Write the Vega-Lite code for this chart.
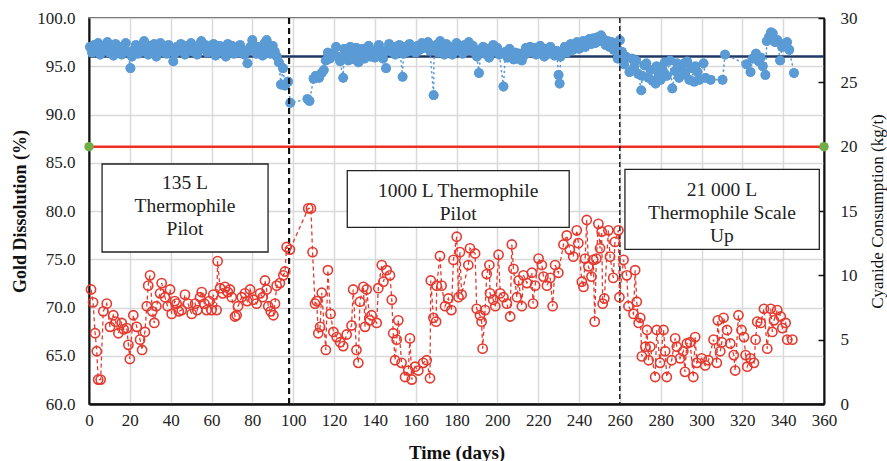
{
"$schema": "https://vega.github.io/schema/vega-lite/v6.json",
"width": 735, "height": 386,
"autosize": {"type": "none"},
"padding": {"left": 89, "top": 18, "right": 63, "bottom": 57},
"background": "white",
"config": {
  "font": "Liberation Serif",
  "view": {"stroke": "#222222", "strokeWidth": 1.5},
  "axis": {"labelFont": "Liberation Serif", "titleFont": "Liberation Serif", "labelColor": "#222222", "titleColor": "#111111", "labelFontSize": 17, "gridColor": "#d9d9d9", "gridWidth": 1.5, "domainColor": "#111111"}
},
"datasets": {
  "gold": [
{"day":0.5,"gold":97.0},{"day":1.5,"gold":96.4},{"day":2.5,"gold":97.2},{"day":3.5,"gold":96.6},{"day":4.5,"gold":97.4},{"day":5.5,"gold":96.2},{"day":7,"gold":97.1},{"day":8,"gold":96.7},{"day":9,"gold":97.5},{"day":10,"gold":96.4},{"day":11,"gold":97.0},{"day":12,"gold":96.1},{"day":13,"gold":97.3},{"day":14,"gold":96.6},{"day":15,"gold":97.0},{"day":16,"gold":96.2},{"day":17,"gold":96.8},{"day":18,"gold":97.4},{"day":19,"gold":96.5},{"day":20.3,"gold":94.8},{"day":21,"gold":96.0},{"day":22,"gold":96.7},{"day":23,"gold":97.2},{"day":24,"gold":96.3},{"day":25,"gold":97.0},{"day":26,"gold":96.5},{"day":27,"gold":97.6},{"day":28,"gold":96.8},{"day":29,"gold":96.2},{"day":30,"gold":97.1},{"day":31,"gold":96.6},{"day":32,"gold":97.3},{"day":33,"gold":96.0},{"day":34,"gold":96.8},{"day":35,"gold":97.4},{"day":36,"gold":96.5},{"day":37,"gold":97.0},{"day":38,"gold":96.3},{"day":39,"gold":97.2},{"day":40,"gold":96.7},{"day":41.3,"gold":95.5},{"day":42,"gold":96.3},{"day":43,"gold":97.0},{"day":44,"gold":96.6},{"day":45,"gold":97.3},{"day":46,"gold":96.9},{"day":47,"gold":96.2},{"day":48,"gold":97.1},{"day":49,"gold":96.7},{"day":50,"gold":97.4},{"day":51,"gold":96.5},{"day":52,"gold":97.0},{"day":53,"gold":96.2},{"day":54,"gold":96.9},{"day":55,"gold":97.6},{"day":56,"gold":96.8},{"day":57,"gold":97.2},{"day":58,"gold":96.4},{"day":59,"gold":97.0},{"day":60,"gold":96.6},{"day":61,"gold":97.3},{"day":62,"gold":96.1},{"day":63,"gold":96.8},{"day":64,"gold":97.1},{"day":65,"gold":96.5},{"day":66,"gold":96.9},{"day":67,"gold":96.0},{"day":68,"gold":97.3},{"day":69,"gold":96.6},{"day":70,"gold":97.1},{"day":71,"gold":96.3},{"day":72,"gold":96.9},{"day":73,"gold":96.4},{"day":74,"gold":97.2},{"day":75,"gold":96.7},{"day":76,"gold":96.2},{"day":77.6,"gold":95.3},{"day":78,"gold":96.6},{"day":79,"gold":97.0},{"day":80,"gold":97.7},{"day":81,"gold":96.9},{"day":82,"gold":96.3},{"day":83,"gold":97.0},{"day":84,"gold":96.5},{"day":85,"gold":96.1},{"day":86,"gold":97.4},{"day":87,"gold":97.7},{"day":88,"gold":96.8},{"day":89,"gold":96.3},{"day":90,"gold":97.1},{"day":91,"gold":96.5},{"day":92,"gold":96.0},{"day":93,"gold":95.4},{"day":94,"gold":93.1},{"day":95,"gold":94.8},{"day":96,"gold":93.0},{"day":97.5,"gold":93.4},{"day":98.6,"gold":91.2},{"day":107,"gold":91.6},{"day":108,"gold":91.4},{"day":110,"gold":93.7},{"day":111,"gold":94.0},{"day":112.7,"gold":93.8},{"day":114,"gold":94.3},{"day":115,"gold":94.6},{"day":116,"gold":95.6},{"day":117,"gold":96.4},{"day":118,"gold":95.8},{"day":119.7,"gold":96.3},{"day":121,"gold":97.0},{"day":122,"gold":96.0},{"day":123,"gold":95.5},{"day":124.5,"gold":93.8},{"day":125,"gold":96.8},{"day":126,"gold":96.2},{"day":127,"gold":95.6},{"day":128,"gold":97.0},{"day":129,"gold":96.4},{"day":130,"gold":95.7},{"day":131,"gold":96.9},{"day":132,"gold":95.4},{"day":133,"gold":96.3},{"day":134,"gold":96.8},{"day":135,"gold":95.8},{"day":136,"gold":96.5},{"day":137,"gold":97.1},{"day":138,"gold":96.0},{"day":139,"gold":96.6},{"day":140,"gold":95.9},{"day":141,"gold":96.4},{"day":142,"gold":97.2},{"day":143,"gold":96.5},{"day":144,"gold":95.8},{"day":145.5,"gold":94.8},{"day":146,"gold":96.7},{"day":147,"gold":97.3},{"day":148,"gold":96.5},{"day":149,"gold":97.0},{"day":150,"gold":96.2},{"day":151,"gold":96.8},{"day":152,"gold":97.2},{"day":153.6,"gold":93.9},{"day":154,"gold":96.3},{"day":155,"gold":97.0},{"day":156,"gold":96.5},{"day":157,"gold":97.3},{"day":158,"gold":96.8},{"day":159,"gold":97.0},{"day":160,"gold":96.4},{"day":161,"gold":97.1},{"day":162,"gold":96.7},{"day":163,"gold":97.4},{"day":164,"gold":96.9},{"day":165,"gold":97.0},{"day":166,"gold":97.5},{"day":167,"gold":96.6},{"day":168.8,"gold":92.0},{"day":169,"gold":96.8},{"day":170,"gold":97.2},{"day":171,"gold":96.4},{"day":172,"gold":97.6},{"day":173,"gold":96.9},{"day":174,"gold":96.2},{"day":175,"gold":97.3},{"day":176,"gold":96.5},{"day":177,"gold":97.0},{"day":178,"gold":96.2},{"day":179,"gold":96.8},{"day":180,"gold":97.4},{"day":181,"gold":96.7},{"day":182,"gold":97.0},{"day":183,"gold":96.3},{"day":184,"gold":97.2},{"day":185,"gold":96.6},{"day":186,"gold":97.5},{"day":187,"gold":96.9},{"day":188,"gold":97.1},{"day":189,"gold":96.4},{"day":190,"gold":96.0},{"day":191,"gold":94.3},{"day":192,"gold":96.7},{"day":193,"gold":97.0},{"day":194,"gold":96.3},{"day":195,"gold":96.8},{"day":196,"gold":95.9},{"day":197,"gold":96.4},{"day":198,"gold":97.2},{"day":199,"gold":96.6},{"day":200,"gold":96.9},{"day":201,"gold":96.2},{"day":203,"gold":92.9},{"day":204,"gold":96.5},{"day":205,"gold":95.9},{"day":206,"gold":96.8},{"day":207,"gold":96.2},{"day":208,"gold":95.7},{"day":209,"gold":96.4},{"day":210,"gold":95.8},{"day":211,"gold":96.3},{"day":212,"gold":95.6},{"day":213,"gold":96.1},{"day":214,"gold":96.9},{"day":215,"gold":96.4},{"day":216,"gold":97.0},{"day":217,"gold":96.5},{"day":218,"gold":96.9},{"day":219,"gold":96.2},{"day":220,"gold":96.7},{"day":221,"gold":97.1},{"day":222,"gold":96.5},{"day":223,"gold":96.0},{"day":224,"gold":96.8},{"day":225,"gold":96.3},{"day":226,"gold":97.0},{"day":227,"gold":96.5},{"day":228,"gold":96.1},{"day":229,"gold":96.6},{"day":230,"gold":94.1},{"day":230.5,"gold":93.2},{"day":231,"gold":96.0},{"day":232,"gold":96.5},{"day":233,"gold":97.0},{"day":234,"gold":96.4},{"day":235,"gold":96.9},{"day":236,"gold":97.3},{"day":237,"gold":96.7},{"day":238,"gold":97.1},{"day":239,"gold":97.5},{"day":240,"gold":96.8},{"day":241,"gold":97.2},{"day":242,"gold":97.6},{"day":243,"gold":97.0},{"day":244,"gold":97.4},{"day":245,"gold":97.8},{"day":246,"gold":97.3},{"day":247,"gold":97.9},{"day":248,"gold":97.4},{"day":249,"gold":98.0},{"day":250,"gold":97.6},{"day":250.8,"gold":98.2},{"day":252,"gold":97.8},{"day":253,"gold":97.2},{"day":254,"gold":97.6},{"day":255,"gold":97.0},{"day":256,"gold":97.5},{"day":257,"gold":96.7},{"day":258,"gold":97.3},{"day":258.9,"gold":95.8},{"day":260,"gold":97.7},{"day":261,"gold":96.5},{"day":262,"gold":95.2},{"day":263,"gold":96.0},{"day":264.7,"gold":94.4},{"day":266,"gold":95.8},{"day":267,"gold":94.9},{"day":268,"gold":95.6},{"day":269,"gold":94.2},{"day":270.5,"gold":92.5},{"day":271,"gold":94.0},{"day":272,"gold":95.1},{"day":273,"gold":95.3},{"day":274,"gold":93.8},{"day":275,"gold":94.6},{"day":276,"gold":93.5},{"day":277.5,"gold":93.2},{"day":278,"gold":95.0},{"day":279,"gold":94.1},{"day":280,"gold":93.6},{"day":281,"gold":94.6},{"day":282,"gold":95.4},{"day":283,"gold":94.0},{"day":284.6,"gold":95.6},{"day":285.7,"gold":92.7},{"day":287,"gold":94.5},{"day":288,"gold":95.3},{"day":289,"gold":93.8},{"day":290,"gold":94.9},{"day":291.4,"gold":95.3},{"day":292,"gold":94.2},{"day":293,"gold":95.5},{"day":294,"gold":93.6},{"day":295,"gold":94.8},{"day":296.4,"gold":93.4},{"day":297,"gold":95.0},{"day":298,"gold":94.4},{"day":299,"gold":93.6},{"day":301,"gold":95.3},{"day":302,"gold":93.8},{"day":304.5,"gold":93.6},{"day":310.3,"gold":93.6},{"day":311.5,"gold":96.2},{"day":322,"gold":95.2},{"day":324,"gold":94.4},{"day":325,"gold":95.8},{"day":326.7,"gold":96.3},{"day":328,"gold":95.5},{"day":329,"gold":95.9},{"day":330,"gold":95.0},{"day":331.3,"gold":94.1},{"day":332,"gold":97.6},{"day":333,"gold":98.0},{"day":334,"gold":98.5},{"day":334.9,"gold":98.4},{"day":336,"gold":97.5},{"day":337.2,"gold":97.7},{"day":338.5,"gold":95.6},{"day":339.5,"gold":97.0},{"day":340.5,"gold":97.3},{"day":341.9,"gold":97.5},{"day":343,"gold":96.7},{"day":345.3,"gold":94.3}
  ],
  "cyanide": [
{"day":1,"cn":8.9},{"day":2,"cn":7.9},{"day":3,"cn":5.5},{"day":3.8,"cn":4.1},{"day":4.5,"cn":1.9},{"day":5.7,"cn":1.9},{"day":7,"cn":7.2},{"day":8.7,"cn":7.8},{"day":10.3,"cn":6.0},{"day":11.9,"cn":6.9},{"day":13,"cn":6.4},{"day":14.4,"cn":5.5},{"day":16,"cn":6.3},{"day":17,"cn":5.8},{"day":18.5,"cn":5.9},{"day":19.3,"cn":4.6},{"day":20,"cn":3.5},{"day":21.7,"cn":6.9},{"day":23.4,"cn":6.0},{"day":25,"cn":5.0},{"day":26,"cn":4.2},{"day":27.4,"cn":5.6},{"day":28.3,"cn":7.6},{"day":29,"cn":9.2},{"day":29.9,"cn":10.0},{"day":31,"cn":7.2},{"day":32,"cn":6.3},{"day":33,"cn":7.6},{"day":34.8,"cn":8.6},{"day":35.6,"cn":9.4},{"day":37.2,"cn":8.3},{"day":38.5,"cn":7.6},{"day":39.7,"cn":8.9},{"day":40.5,"cn":7.0},{"day":42,"cn":8.0},{"day":42.9,"cn":7.8},{"day":44,"cn":7.2},{"day":45.4,"cn":7.3},{"day":47,"cn":8.5},{"day":48.5,"cn":7.8},{"day":50.3,"cn":7.0},{"day":52,"cn":7.8},{"day":53,"cn":7.3},{"day":54.4,"cn":8.3},{"day":55.2,"cn":8.7},{"day":56.5,"cn":7.8},{"day":57.6,"cn":7.3},{"day":59,"cn":8.0},{"day":60,"cn":7.3},{"day":60.9,"cn":8.5},{"day":62.5,"cn":7.3},{"day":63,"cn":11.1},{"day":64.2,"cn":9.0},{"day":65.5,"cn":8.6},{"day":66.6,"cn":9.1},{"day":68,"cn":8.7},{"day":69,"cn":8.9},{"day":69.9,"cn":8.3},{"day":71.5,"cn":6.8},{"day":72.3,"cn":6.9},{"day":73,"cn":7.6},{"day":74.8,"cn":8.3},{"day":76.4,"cn":8.6},{"day":77.5,"cn":8.0},{"day":78.9,"cn":8.9},{"day":80.5,"cn":8.1},{"day":82.1,"cn":7.8},{"day":83.8,"cn":8.6},{"day":85,"cn":8.3},{"day":86.2,"cn":9.6},{"day":87,"cn":8.9},{"day":87.8,"cn":7.6},{"day":89,"cn":7.2},{"day":90.3,"cn":6.9},{"day":91.1,"cn":7.8},{"day":91.9,"cn":9.2},{"day":93.5,"cn":9.4},{"day":95.2,"cn":10.0},{"day":96,"cn":10.3},{"day":96.8,"cn":12.2},{"day":98.4,"cn":12.0},{"day":107.4,"cn":15.2},{"day":108.7,"cn":15.2},{"day":109.5,"cn":11.8},{"day":110.7,"cn":7.8},{"day":111.5,"cn":8.0},{"day":112.3,"cn":5.5},{"day":113.2,"cn":6.0},{"day":114,"cn":8.65},{"day":116,"cn":4.2},{"day":117,"cn":10.4},{"day":118.3,"cn":7.0},{"day":119.7,"cn":5.6},{"day":121.3,"cn":5.2},{"day":123,"cn":4.8},{"day":124.5,"cn":4.5},{"day":126.2,"cn":5.4},{"day":128.6,"cn":6.1},{"day":129.4,"cn":8.9},{"day":131,"cn":4.2},{"day":131.9,"cn":3.2},{"day":132.7,"cn":7.95},{"day":134.4,"cn":9.1},{"day":135.2,"cn":6.0},{"day":136,"cn":8.9},{"day":137.6,"cn":6.5},{"day":138.4,"cn":6.9},{"day":140.9,"cn":6.3},{"day":141.7,"cn":9.0},{"day":143.4,"cn":10.8},{"day":144.2,"cn":9.5},{"day":145.8,"cn":10.4},{"day":147.4,"cn":10.0},{"day":148.3,"cn":8.1},{"day":149,"cn":5.5},{"day":149.9,"cn":3.4},{"day":150.7,"cn":5.0},{"day":151.5,"cn":6.5},{"day":153.1,"cn":3.2},{"day":154.8,"cn":2.1},{"day":156.4,"cn":2.6},{"day":157.2,"cn":5.1},{"day":158.1,"cn":1.9},{"day":159.7,"cn":2.9},{"day":161.3,"cn":2.6},{"day":163.7,"cn":3.2},{"day":165.4,"cn":3.4},{"day":167,"cn":2.0},{"day":167.4,"cn":9.6},{"day":168.7,"cn":6.7},{"day":170,"cn":6.4},{"day":170.3,"cn":9.2},{"day":171.9,"cn":11.5},{"day":172.7,"cn":9.2},{"day":174.4,"cn":7.6},{"day":176,"cn":8.2},{"day":177.5,"cn":7.3},{"day":178.5,"cn":11.2},{"day":180.1,"cn":13.0},{"day":181,"cn":8.3},{"day":181.7,"cn":11.8},{"day":182.5,"cn":8.5},{"day":185.8,"cn":10.8},{"day":186.6,"cn":12.1},{"day":189.1,"cn":11.7},{"day":189.9,"cn":7.4},{"day":191.5,"cn":6.9},{"day":192.3,"cn":6.4},{"day":192.8,"cn":4.3},{"day":194,"cn":7.3},{"day":194.8,"cn":10.1},{"day":196.1,"cn":10.8},{"day":196.4,"cn":8.6},{"day":198,"cn":8.1},{"day":199,"cn":7.6},{"day":200.6,"cn":11.6},{"day":201.4,"cn":8.6},{"day":203,"cn":8.3},{"day":204.7,"cn":7.8},{"day":206.3,"cn":6.8},{"day":207.1,"cn":12.4},{"day":207.9,"cn":10.5},{"day":209.6,"cn":8.3},{"day":210.4,"cn":9.6},{"day":212,"cn":7.6},{"day":212.8,"cn":10.0},{"day":214.5,"cn":9.4},{"day":216.9,"cn":10.2},{"day":217.5,"cn":7.8},{"day":218.5,"cn":9.2},{"day":220.2,"cn":11.3},{"day":221.8,"cn":10.8},{"day":222.6,"cn":9.9},{"day":224.3,"cn":9.2},{"day":225.9,"cn":9.8},{"day":227.1,"cn":7.6},{"day":228.3,"cn":10.8},{"day":229.9,"cn":10.2},{"day":232.4,"cn":12.4},{"day":234,"cn":13.1},{"day":235.5,"cn":12.0},{"day":237.2,"cn":11.45},{"day":238.9,"cn":13.5},{"day":239.7,"cn":12.5},{"day":241.4,"cn":9.5},{"day":242.2,"cn":9.1},{"day":243,"cn":11.3},{"day":243.8,"cn":14.3},{"day":244.6,"cn":10.7},{"day":246.1,"cn":9.9},{"day":247,"cn":11.2},{"day":247.7,"cn":6.4},{"day":248.5,"cn":11.3},{"day":249.5,"cn":14.0},{"day":250.3,"cn":12.1},{"day":251.1,"cn":13.4},{"day":251.6,"cn":7.8},{"day":252.4,"cn":8.2},{"day":254.4,"cn":13.5},{"day":255.2,"cn":11.45},{"day":256.8,"cn":9.8},{"day":257.6,"cn":12.6},{"day":259.3,"cn":13.5},{"day":259.8,"cn":8.3},{"day":261.8,"cn":11.2},{"day":263.4,"cn":10.0},{"day":264.2,"cn":7.6},{"day":266.7,"cn":7.0},{"day":267.5,"cn":10.4},{"day":268.3,"cn":7.95},{"day":269.2,"cn":6.3},{"day":270,"cn":6.7},{"day":270.8,"cn":3.7},{"day":272.5,"cn":4.45},{"day":273.3,"cn":5.75},{"day":274.1,"cn":3.4},{"day":274.9,"cn":4.45},{"day":277.3,"cn":2.1},{"day":278.1,"cn":5.75},{"day":279.7,"cn":3.2},{"day":281.4,"cn":5.75},{"day":282.2,"cn":4.1},{"day":283,"cn":2.1},{"day":285.4,"cn":3.4},{"day":287.1,"cn":5.1},{"day":287.9,"cn":4.45},{"day":289.5,"cn":3.55},{"day":291.1,"cn":4.1},{"day":291.9,"cn":2.5},{"day":292.8,"cn":4.7},{"day":294.4,"cn":4.8},{"day":296,"cn":2.1},{"day":296.9,"cn":5.2},{"day":297.7,"cn":3.2},{"day":300.1,"cn":3.55},{"day":301.8,"cn":3.0},{"day":303.4,"cn":3.4},{"day":305.9,"cn":5.0},{"day":307.5,"cn":3.2},{"day":308,"cn":6.5},{"day":309.2,"cn":4.1},{"day":310,"cn":4.8},{"day":310.8,"cn":6.7},{"day":312.5,"cn":5.75},{"day":314.1,"cn":4.7},{"day":315.8,"cn":3.8},{"day":316.5,"cn":2.6},{"day":318.1,"cn":6.9},{"day":319.6,"cn":5.75},{"day":320.8,"cn":5.2},{"day":321.6,"cn":3.8},{"day":322.4,"cn":2.9},{"day":324,"cn":3.55},{"day":325.7,"cn":3.2},{"day":326.5,"cn":5.0},{"day":327.3,"cn":6.4},{"day":329,"cn":6.3},{"day":330.6,"cn":7.4},{"day":332.2,"cn":4.3},{"day":333.9,"cn":7.4},{"day":334.7,"cn":5.6},{"day":335.5,"cn":6.5},{"day":337.1,"cn":7.3},{"day":338.8,"cn":6.8},{"day":339.6,"cn":5.9},{"day":341.2,"cn":6.3},{"day":342,"cn":5.0},{"day":344.5,"cn":5.0}
  ],
  "target": [{"day": 0, "cn": 20}, {"day": 360, "cn": 20}],
  "baseline": [{"day": 0, "gold": 96.0}, {"day": 360, "gold": 96.0}],
  "phases": [{"day": 98, "phase": "135 L to 1000 L"}, {"day": 260, "phase": "1000 L to 21 000 L"}],
  "boxes": [
    {"x0": 6.4, "x1": 87.7, "y0": 84.87, "y1": 75.75, "xc": 47, "yc": 82.9, "label": "135 L\nThermophile\nPilot"},
    {"x0": 126.5, "x1": 235.2, "y0": 84.18, "y1": 78.31, "xc": 180.8, "yc": 82.07, "label": "1000 L Thermophile\nPilot"},
    {"x0": 262.5, "x1": 357.7, "y0": 84.32, "y1": 76.03, "xc": 310, "yc": 82.18, "label": "21 000 L\nThermophile Scale\nUp"}
  ]
},
"layer": [
  {
    "data": {"name": "gold"},
    "mark": {"type": "circle", "color": "#5b9bd5", "opacity": 1, "size": 95},
    "encoding": {
      "x": {"field": "day", "type": "quantitative", "scale": {"domain": [0, 360], "nice": false},
            "axis": {"values": [0,20,40,60,80,100,120,140,160,180,200,220,240,260,280,300,320,340,360], "grid": true, "ticks": false,
                     "domainWidth": 2.5, "labelPadding": 8, "labelFlush": false, "title": "Time (days)", "titleFontSize": 19, "titleFontWeight": "bold",
                     "titleY": 48, "titleBaseline": "middle"}},
      "y": {"field": "gold", "type": "quantitative", "scale": {"domain": [60, 100], "nice": false, "zero": false},
            "axis": {"orient": "left", "values": [60,65,70,75,80,85,90,95,100], "format": ".1f", "grid": true, "ticks": false,
                     "domainWidth": 2, "labelPadding": 14, "title": "Gold Dissolution (%)", "titleFontSize": 18, "titleFontWeight": "bold",
                     "titleX": -69, "titleBaseline": "middle", "titleAnchor": "middle"}}
    }
  },
  {
    "data": {"name": "baseline"},
    "mark": {"type": "line", "color": "#203864", "strokeWidth": 2.5},
    "encoding": {
      "x": {"field": "day", "type": "quantitative", "scale": {"domain": [0, 360], "nice": false}},
      "y": {"field": "gold", "type": "quantitative", "scale": {"domain": [60, 100], "nice": false, "zero": false}, "axis": null}
    }
  },
  {
    "data": {"name": "gold"},
    "mark": {"type": "line", "color": "#5b9bd5", "strokeWidth": 1.6, "strokeDash": [1, 4], "strokeCap": "round"},
    "encoding": {
      "x": {"field": "day", "type": "quantitative", "scale": {"domain": [0, 360], "nice": false}},
      "y": {"field": "gold", "type": "quantitative", "scale": {"domain": [60, 100], "nice": false, "zero": false}, "axis": null}
    }
  },
  {
    "data": {"name": "gold"},
    "mark": {"type": "circle", "color": "#5b9bd5", "opacity": 1, "size": 95},
    "encoding": {
      "x": {"field": "day", "type": "quantitative", "scale": {"domain": [0, 360], "nice": false}},
      "y": {"field": "gold", "type": "quantitative", "scale": {"domain": [60, 100], "nice": false, "zero": false}, "axis": null}
    }
  },
  {
    "data": {"name": "target"},
    "mark": {"type": "line", "color": "#ee2e24", "strokeWidth": 2.5},
    "encoding": {
      "x": {"field": "day", "type": "quantitative", "scale": {"domain": [0, 360], "nice": false}},
      "y": {"field": "cn", "type": "quantitative", "scale": {"domain": [0, 30], "nice": false},
            "axis": {"orient": "right", "values": [0,5,10,15,20,25,30], "grid": false, "ticks": true, "tickSize": -6, "tickWidth": 1.5, "tickColor": "#111111",
                     "domainWidth": 2, "labelPadding": 22, "title": "Cyanide Consumption (kg/t)", "titleFontSize": 17, "titleFontWeight": "normal",
                     "titleAngle": 270, "titleX": 53, "titleBaseline": "middle", "titleAnchor": "middle"}}
    }
  },
  {
    "data": {"name": "phases"},
    "transform": [{"filter": "datum.day < 100"}],
    "mark": {"type": "rule", "color": "#111111", "strokeWidth": 2.2, "strokeDash": [6, 4]},
    "encoding": {"x": {"field": "day", "type": "quantitative", "scale": {"domain": [0, 360], "nice": false}}}
  },
  {
    "data": {"name": "phases"},
    "transform": [{"filter": "datum.day > 100"}],
    "mark": {"type": "rule", "color": "#111111", "strokeWidth": 1.4, "strokeDash": [5, 3]},
    "encoding": {"x": {"field": "day", "type": "quantitative", "scale": {"domain": [0, 360], "nice": false}}}
  },
  {
    "data": {"name": "target"},
    "mark": {"type": "circle", "color": "#70ad47", "opacity": 1, "size": 90},
    "encoding": {
      "x": {"field": "day", "type": "quantitative", "scale": {"domain": [0, 360], "nice": false}},
      "y": {"field": "cn", "type": "quantitative", "scale": {"domain": [0, 30], "nice": false}, "axis": null}
    }
  },
  {
    "data": {"name": "boxes"},
    "mark": {"type": "rect", "fill": "white", "stroke": "#222222", "strokeWidth": 1.3},
    "encoding": {
      "x": {"field": "x0", "type": "quantitative", "scale": {"domain": [0, 360], "nice": false}},
      "x2": {"field": "x1"},
      "y": {"field": "y0", "type": "quantitative", "scale": {"domain": [60, 100], "nice": false, "zero": false}, "axis": null},
      "y2": {"field": "y1"}
    }
  },
  {
    "data": {"name": "boxes"},
    "mark": {"type": "text", "font": "Liberation Serif", "fontSize": 19.5, "lineHeight": 23, "lineBreak": "\n", "align": "center", "baseline": "middle", "color": "#222222"},
    "encoding": {
      "x": {"field": "xc", "type": "quantitative", "scale": {"domain": [0, 360], "nice": false}},
      "y": {"field": "yc", "type": "quantitative", "scale": {"domain": [60, 100], "nice": false, "zero": false}, "axis": null},
      "text": {"field": "label"}
    }
  },
  {
    "data": {"name": "cyanide"},
    "mark": {"type": "line", "color": "#e53a2f", "strokeWidth": 1.3, "strokeDash": [4, 3]},
    "encoding": {
      "x": {"field": "day", "type": "quantitative", "scale": {"domain": [0, 360], "nice": false}},
      "y": {"field": "cn", "type": "quantitative", "scale": {"domain": [0, 30], "nice": false}, "axis": null}
    }
  },
  {
    "data": {"name": "cyanide"},
    "mark": {"type": "point", "shape": "circle", "filled": false, "color": "#e53a2f", "strokeWidth": 1.6, "size": 85, "opacity": 1},
    "encoding": {
      "x": {"field": "day", "type": "quantitative", "scale": {"domain": [0, 360], "nice": false}},
      "y": {"field": "cn", "type": "quantitative", "scale": {"domain": [0, 30], "nice": false}, "axis": null}
    }
  }
],
"resolve": {"scale": {"y": "independent"}}
}
